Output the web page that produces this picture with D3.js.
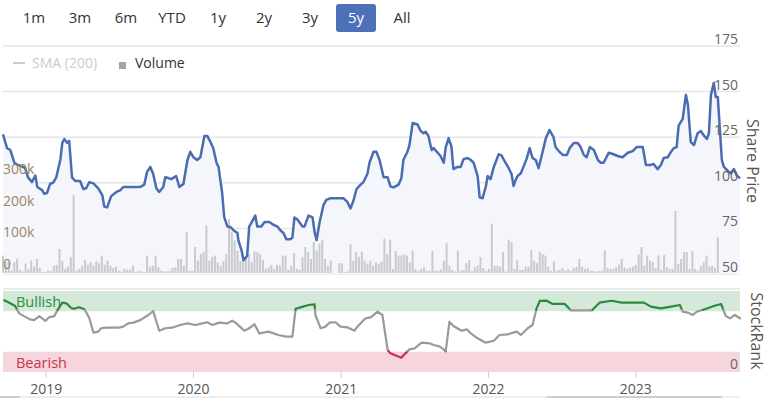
<!DOCTYPE html>
<html><head><meta charset="utf-8">
<script src="https://cdn.jsdelivr.net/npm/d3@7"></script>
<style>
body{margin:0;background:#fff;}
svg{display:block;font-family:"Open Sans",sans-serif;}
</style>
</head><body>
<svg id="chart" width="769" height="398"></svg>
<script>
// ---------- DATA ----------
const rangeButtons = ["1m","3m","6m","YTD","1y","2y","3y","5y","All"];
const selectedRange = "5y";
const legendItems = ["SMA (200)","Volume"];

const priceDates = ["2018-09-16","2018-09-26","2018-10-04","2018-10-14","2018-10-21","2018-11-02","2018-11-10","2018-11-17","2018-11-27","2018-12-05","2018-12-10","2018-12-22","2018-12-27",
"2019-01-03","2019-01-11","2019-01-18","2019-01-26","2019-02-05","2019-02-10","2019-02-15","2019-02-22","2019-02-27","2019-03-06","2019-03-14","2019-03-26","2019-04-03","2019-04-10","2019-04-18","2019-04-28","2019-05-10","2019-05-20","2019-05-25","2019-06-01","2019-06-11","2019-06-24","2019-07-04","2019-07-11","2019-08-22","2019-09-01","2019-09-08","2019-09-16","2019-09-23","2019-10-01","2019-10-08","2019-10-18","2019-10-23","2019-10-31","2019-11-07","2019-11-19","2019-11-27","2019-12-07","2019-12-17","2019-12-24",
"2020-01-01","2020-01-10","2020-01-18","2020-01-28","2020-02-04","2020-02-12","2020-02-19","2020-02-27","2020-03-03","2020-03-12","2020-03-17","2020-03-25","2020-04-01","2020-04-09","2020-04-19","2020-04-21","2020-04-29","2020-05-04","2020-05-13","2020-05-18","2020-05-28","2020-06-02","2020-06-07","2020-06-17","2020-06-25","2020-07-07","2020-07-17","2020-07-27","2020-08-03","2020-08-11","2020-08-18","2020-08-28","2020-09-02","2020-09-07","2020-09-14","2020-09-27","2020-10-02","2020-10-12","2020-10-22","2020-10-27","2020-11-01","2020-11-08","2020-11-18","2020-11-25","2020-12-05",
"2021-01-07","2021-01-16","2021-01-24","2021-01-31","2021-02-08","2021-02-18","2021-02-25","2021-03-07","2021-03-12","2021-03-22","2021-03-29","2021-04-06","2021-04-16","2021-04-26","2021-05-03","2021-05-11","2021-05-23","2021-05-30","2021-06-04","2021-06-14","2021-06-19","2021-06-27","2021-07-09","2021-07-17","2021-07-24","2021-07-29","2021-08-05","2021-08-13","2021-08-18","2021-08-28","2021-09-04","2021-09-12","2021-09-17","2021-09-24","2021-10-01","2021-10-06","2021-10-16","2021-10-24","2021-10-31","2021-11-10","2021-11-18","2021-11-25","2021-12-05","2021-12-10","2021-12-17","2021-12-25","2021-12-30",
"2022-01-06","2022-01-14","2022-01-26","2022-02-02","2022-02-12","2022-02-20","2022-02-27","2022-03-04","2022-03-09","2022-03-14","2022-03-22","2022-03-29","2022-04-05","2022-04-13","2022-04-20","2022-04-28","2022-05-05","2022-05-15","2022-05-23","2022-06-01","2022-06-11","2022-06-16","2022-06-24","2022-07-04","2022-07-14","2022-07-21","2022-07-31","2022-08-10","2022-08-17","2022-08-25","2022-09-01","2022-09-09","2022-09-19","2022-09-29","2022-10-06","2022-10-13","2022-10-26","2022-11-05","2022-11-17","2022-11-29","2022-12-12","2022-12-24",
"2023-01-03","2023-01-18","2023-01-26","2023-02-07","2023-02-14","2023-02-24","2023-03-04","2023-03-11","2023-03-21","2023-03-29","2023-04-05","2023-04-12","2023-04-17","2023-04-27","2023-05-05","2023-05-10","2023-05-17","2023-05-25","2023-06-03","2023-06-11","2023-06-18","2023-06-26","2023-07-01","2023-07-06","2023-07-13","2023-07-18","2023-07-23","2023-08-02","2023-08-07","2023-08-17","2023-08-24","2023-09-01","2023-09-08","2023-09-16"];
const priceValues = [126.6,119,118,111,110,109,108,103,100.4,104,97.7,96,94,
94.4,99.5,100,103,112.5,122,124,122,123,103,101,101,96.6,97,100.4,99.7,97,93.3,87,86.5,92.7,95,96,97.7,97.7,99,106,108.7,105,97,95,97.7,103,102.6,102,103.7,97.7,99.3,112.5,117,
114,112.5,114,125.7,125.7,122.4,119,111,108.7,94.4,81.3,76,75.8,74,72.5,68.6,63,57.5,60,76,80,82,76,76,78.5,78.5,77,76,74,72.5,69,69,70,81,80,76,76,82,81,73,68.6,78,87.8,90.6,91.5,
91.5,89.5,86,90,96.6,99,100.4,105,111,117,117,112.5,103,103,98,97.5,99,102.5,112.5,117,120.6,132.8,132,128.4,127.2,128,125.7,118,119,116.5,114.7,111,119.6,124.5,120,107.5,108.7,108.7,113,113.6,112.5,111,103.7,92,91.5,97.7,103.7,
102,108.7,115.6,115,111,108,104.8,98.2,101.5,103.7,105.2,109,113,119,113.6,112.5,108,117,124.5,128.9,125,119.6,117.4,115.3,115.3,119,121.8,121.8,119.6,115.3,114,119.6,118,112.5,111,111,116.5,115.8,114.7,114,116.5,117.4,
119.6,119.6,109.8,109.8,110.3,107.5,109.8,113.6,114,117,119,119.6,131.3,135,148.2,142.6,122.4,120.6,127.2,128.4,126,124,127.2,148.2,154.7,147,147,112.5,108.7,106.5,105.2,107.5,104,102.5];

// weekly volume (thousands of shares), one value per week from volumeStart
const volumeStart = "2018-09-16";
const volumes = [55,34,36,8,34,45,10,5,30,12,40,20,44,16,4,3,8,6,23,26,76,39,13,20,50,246,7,13,23,41,
26,34,23,37,31,55,26,39,23,16,20,7,5,13,10,10,23,3,7,5,3,55,20,23,55,18,7,5,5,7,
16,18,44,44,23,129,7,7,82,39,60,66,150,39,50,55,34,23,37,60,171,129,103,71,37,44,44,60,35,68,
66,60,41,13,18,26,13,25,23,55,55,10,23,63,13,10,50,82,66,44,98,71,92,105,44,23,39,0,0,31,
31,3,5,90,39,66,50,68,39,29,39,23,34,29,36,108,60,105,13,69,55,55,58,55,34,71,13,7,13,18,
7,7,69,7,7,10,39,94,23,10,5,71,7,10,31,41,7,18,23,50,16,7,13,156,
23,23,20,66,5,105,98,13,41,10,10,20,20,73,39,31,68,60,55,20,7,37,7,10,16,7,13,7,16,18,
44,20,13,16,7,7,5,7,7,71,16,13,13,18,26,44,18,13,16,20,26,58,82,23,55,39,34,16,55,10,
57,18,13,13,196,29,44,66,66,13,69,13,7,23,34,55,20,23,16,113];

const rankDates = ["2018-09-19","2018-10-04","2018-10-16","2018-10-26","2018-11-07","2018-11-22","2018-12-02","2018-12-15","2018-12-30",
"2019-01-08","2019-01-21","2019-01-31","2019-02-10","2019-02-20","2019-03-04","2019-03-11","2019-03-23","2019-04-06","2019-04-18","2019-04-28","2019-05-10","2019-05-17","2019-05-30","2019-06-29","2019-07-11","2019-07-23","2019-08-05","2019-08-22","2019-09-11","2019-09-23","2019-10-08","2019-10-23","2019-11-09","2019-11-29","2019-12-17",
"2020-01-06","2020-01-23","2020-02-04","2020-02-17","2020-03-05","2020-03-25","2020-04-06","2020-04-16","2020-05-06","2020-05-18","2020-05-31","2020-06-12","2020-07-05","2020-07-29","2020-08-18","2020-09-02","2020-09-10","2020-09-22","2020-10-12","2020-10-27","2020-10-29","2020-11-11","2020-11-23","2020-12-03","2020-12-18","2020-12-30",
"2021-01-16","2021-02-03","2021-02-10","2021-03-02","2021-03-15","2021-04-01","2021-04-13","2021-04-26","2021-05-01","2021-05-13","2021-05-30","2021-06-09","2021-06-19","2021-07-02","2021-07-19","2021-08-08","2021-08-18","2021-08-30","2021-09-09","2021-09-17","2021-09-26","2021-10-06","2021-10-26","2021-11-08","2021-11-18","2021-12-05","2021-12-25",
"2022-01-14","2022-01-28","2022-02-17","2022-03-12","2022-03-22","2022-04-08","2022-04-20","2022-04-30","2022-05-08","2022-05-25","2022-06-09","2022-07-09","2022-07-24","2022-08-17","2022-09-14","2022-10-03","2022-11-02","2022-11-27",
"2023-01-21","2023-02-07","2023-03-04","2023-03-29","2023-04-20","2023-04-27","2023-05-10","2023-05-22","2023-06-01","2023-06-21","2023-07-13","2023-07-31","2023-08-12","2023-08-22","2023-09-03","2023-09-16"];
const rankValues = [88.6,84.8,81.5,72.4,69,65,64,69,63,
67.5,69,78,85.6,84.8,79,78,80,77.5,66.3,48.6,49.8,54,54.7,54.7,56,60,61,64,70.4,75.3,51,54,54.7,58,60,
58,60,61.4,58,61,60,63.3,60,51,54,59,47.7,49.8,45.7,43.6,43.6,78,79.8,82.7,83.6,70.4,54,56,61,61.4,56,
55.2,51,56,66.3,67.5,74.5,70.4,27.2,23.9,21,17.7,23,28,29.2,36.2,35.4,33.3,32,29.2,25.5,62,56.8,51,52.7,47.7,41.6,36.2,
38.6,45.7,46.5,49.8,45.7,54,58,78.6,87.7,88,84,84,76,76,76,85.6,88,85.6,
85.6,80.7,78.6,80.7,82.7,74.5,73.3,70.4,74.5,77.5,81.5,84,69,66.3,70.4,66.3];

const priceTicks = [50,75,100,125,150,175];
const volumeTicks = [0,100,200,300];
const yearTicks = ["2019","2020","2021","2022","2023"];
const rankBands = [{name:"Bullish",from:75,to:100},{name:"Bearish",from:0,to:25}];
const rankAxisLabel = "0";
const bullishLevel = 76.8, bearishLevel = 26;

// ---------- DRAW ----------
const parse = d3.timeParse("%Y-%m-%d");
const svg = d3.select("#chart");
const L = 3, R = 740;
const x = d3.scaleTime().domain([parse("2018-09-16"), parse("2023-09-16")]).range([L, R]);
const yP = d3.scaleLinear().domain([50,175]).range([274,46]);
const yV = d3.scaleLinear().domain([0,300]).range([273,178]);
const yR = d3.scaleLinear().domain([0,100]).range([372,291]);

// range selector
const bx = d3.scalePoint().domain(rangeButtons).range([34,402]);
const btn = svg.append("g").selectAll("g").data(rangeButtons).join("g")
  .attr("transform", d => `translate(${bx(d)},0)`);
btn.filter(d => d === selectedRange).append("rect")
  .attr("x",-20).attr("y",4).attr("width",40).attr("height",28).attr("rx",3).attr("fill","#4d71b6");
btn.append("text").attr("y",23).attr("text-anchor","middle").attr("font-size",15)
  .attr("fill", d => d === selectedRange ? "#fff" : "#333").text(d => d);

// gridlines (price axis)
svg.append("g").selectAll("line").data(priceTicks).join("line")
  .attr("x1",L).attr("x2",R).attr("y1",d=>yP(d)).attr("y2",d=>yP(d))
  .attr("stroke","#e6e6e6").attr("stroke-width",1.5);

// area + volume + line
const pts = priceDates.map((d,i)=>({d:parse(d),v:priceValues[i]}));
svg.append("path").datum(pts)
  .attr("d", d3.area().x(p=>x(p.d)).y0(yP(50)).y1(p=>yP(p.v)))
  .attr("fill","#f4f6fb");

const vStart = parse(volumeStart);
svg.append("g").selectAll("rect").data(volumes).join("rect")
  .attr("x",(v,i)=>x(d3.timeWeek.offset(vStart,i))-1)
  .attr("width",2)
  .attr("y",v=>yV(v)).attr("height",v=>yV(0)-yV(v))
  .attr("fill","#c9cad0");

svg.append("path").datum(pts)
  .attr("d", d3.line().x(p=>x(p.d)).y(p=>yP(p.v)))
  .attr("fill","none").attr("stroke","#4a6db2").attr("stroke-width",2.5).attr("stroke-linejoin","round");

// price labels (right)
svg.append("g").selectAll("text").data(priceTicks).join("text")
  .attr("x",738).attr("y",d=>yP(d)-2).attr("text-anchor","end")
  .attr("font-size",14).attr("fill","#666").text(d=>d);
// volume labels (left)
svg.append("g").selectAll("text").data(volumeTicks).join("text")
  .attr("x",3).attr("y",d=>yV(d)-4).attr("font-size",14).attr("fill","#9b8763")
  .text(d=> d===0 ? "0" : d+"k");

svg.append("text").attr("transform","translate(747,161) rotate(90)")
  .attr("text-anchor","middle").attr("font-size",16).attr("fill","#555").text("Share Price");

// legend
const lg = svg.append("g");
lg.append("line").attr("x1",13).attr("x2",25).attr("y1",63).attr("y2",63).attr("stroke","#ccc").attr("stroke-width",2);
lg.append("text").attr("x",32).attr("y",68).attr("font-size",14).attr("fill","#ccc").text(legendItems[0]);
lg.append("rect").attr("x",119).attr("y",62).attr("width",7).attr("height",7).attr("fill","#a3a3a8");
lg.append("text").attr("x",135).attr("y",68).attr("font-size",14).attr("fill","#333").text(legendItems[1]);

// separator between panes
svg.append("line").attr("x1",L).attr("x2",R).attr("y1",289).attr("y2",289).attr("stroke","#e6e6e6").attr("stroke-width",1.5);

// rank bands
const bandColors = {Bullish:"#d5e9db", Bearish:"#f6d6dc"};
const bandText = {Bullish:"#2e8a40", Bearish:"#c8344f"};
svg.append("g").selectAll("rect").data(rankBands).join("rect")
  .attr("x",L).attr("width",R-L).attr("y",d=>yR(d.to)).attr("height",d=>yR(d.from)-yR(d.to))
  .attr("fill",d=>bandColors[d.name]);
svg.append("g").selectAll("text").data(rankBands).join("text")
  .attr("x",16).attr("y",d=>(yR(d.to)+yR(d.from))/2+6).attr("font-size",14.5)
  .attr("fill",d=>bandText[d.name]).text(d=>d.name);

// rank line split into zones
const rp = rankDates.map((d,i)=>({x:x(parse(d)),v:rankValues[i]}));
const zone = v => v >= bullishLevel ? "g" : (v <= bearishLevel ? "r" : "n");
const segs = [];
for (let i=0;i<rp.length-1;i++){
  const a=rp[i], b=rp[i+1];
  const cuts=[0,1];
  [bullishLevel,bearishLevel].forEach(t=>{
    if ((a.v-t)*(b.v-t)<0) cuts.push((t-a.v)/(b.v-a.v));
  });
  cuts.sort((p,q)=>p-q);
  for (let k=0;k<cuts.length-1;k++){
    const t0=cuts[k], t1=cuts[k+1];
    const p0={x:a.x+(b.x-a.x)*t0, v:a.v+(b.v-a.v)*t0};
    const p1={x:a.x+(b.x-a.x)*t1, v:a.v+(b.v-a.v)*t1};
    const z=zone((p0.v+p1.v)/2);
    const last=segs[segs.length-1];
    if (last && last.z===z) last.pts.push(p1); else segs.push({z,pts:[p0,p1]});
  }
}
const zoneColor = {g:"#2b8a3b", r:"#d02c4c", n:"#9a9a9a"};
svg.append("g").selectAll("path").data(segs).join("path")
  .attr("d",s=>d3.line().x(p=>p.x).y(p=>yR(p.v))(s.pts))
  .attr("fill","none").attr("stroke",s=>zoneColor[s.z]).attr("stroke-width",2.2)
  .attr("stroke-linejoin","round").attr("stroke-linecap","round");

svg.append("text").attr("x",738).attr("y",369).attr("text-anchor","end").attr("font-size",14).attr("fill","#666").text(rankAxisLabel);
svg.append("text").attr("transform","translate(751,331) rotate(90)")
  .attr("text-anchor","middle").attr("font-size",16).attr("fill","#555").text("StockRank");

// x axis
const xt = yearTicks.map(y=>parse(y+"-01-01"));
svg.append("g").selectAll("line").data(xt).join("line")
  .attr("x1",d=>x(d)).attr("x2",d=>x(d)).attr("y1",372).attr("y2",378).attr("stroke","#ccd");
svg.append("g").selectAll("text").data(xt).join("text")
  .attr("x",d=>x(d)).attr("y",394).attr("text-anchor","middle").attr("font-size",14).attr("fill","#555")
  .text((d,i)=>yearTicks[i]);

// navigator scrollbar
svg.append("rect").attr("x",0).attr("y",396).attr("width",R).attr("height",2).attr("fill","#eeeeee");
svg.append("rect").attr("x",0).attr("y",396).attr("width",20).attr("height",2).attr("fill","#cfcfcf");
svg.append("rect").attr("x",547).attr("y",396).attr("width",175).attr("height",2).attr("fill","#cfcfcf");
</script>
</body></html>
